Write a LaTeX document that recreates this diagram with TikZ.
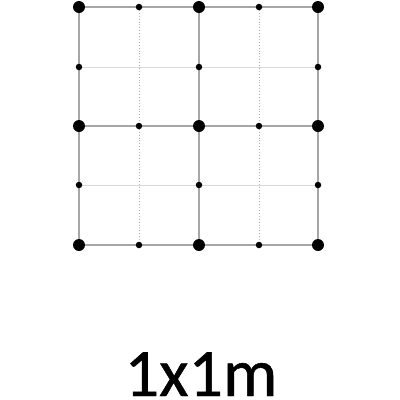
\documentclass[tikz,border=0pt]{standalone}
\usepackage{fontspec}
\setmainfont{Carlito}
\newfontfamily\labfont[FakeBold=0.7]{Carlito}
\begin{document}
\begin{tikzpicture}[x=1pt,y=-1pt,
  mainline/.style={draw=black!35,line width=1.2pt},
  hline/.style={draw=black!15,line width=1pt},
  vline/.style={draw=black!30,line width=0.9pt,dotted},
  bigdot/.style={circle,fill=black,inner sep=0pt,minimum size=12pt},
  smalldot/.style={circle,fill=black,inner sep=0pt,minimum size=6.5pt}]
\useasboundingbox (0,0) rectangle (400,400);
\def\xs{{79,139,199,259,318}}
\def\ys{{7,67,126,185,245}}
% coordinates
\foreach \i in {0,...,4}{\foreach \j in {0,...,4}{
  \pgfmathsetmacro{\px}{\xs[\i]}\pgfmathsetmacro{\py}{\ys[\j]}
  \coordinate (p\i\j) at (\px,\py);}}
% intermediate lines
\foreach \j in {1,3}{\draw[hline] (p0\j) -- (p4\j);}
\foreach \i in {1,3}{\draw[vline] (p\i0) -- (p\i4);}
% main lines
\foreach \j in {0,2,4}{\draw[mainline] (p0\j) -- (p4\j);}
\foreach \i in {0,2,4}{\draw[mainline] (p\i0) -- (p\i4);}
% dots
\foreach \i in {0,2,4}{\foreach \j in {0,2,4}{\node[bigdot] (b\i\j) at (p\i\j) {};}}
\foreach \i in {1,3}{\foreach \j in {0,2,4}{\node[smalldot] (s\i\j) at (p\i\j) {};}}
\foreach \i in {0,2,4}{\foreach \j in {1,3}{\node[smalldot] (t\i\j) at (p\i\j) {};}}
\node[anchor=base,font=\labfont\fontsize{68}{68}\selectfont,inner sep=0pt,text depth=0pt] (label) at (201,396) {1x1m};
\end{tikzpicture}
\end{document}
